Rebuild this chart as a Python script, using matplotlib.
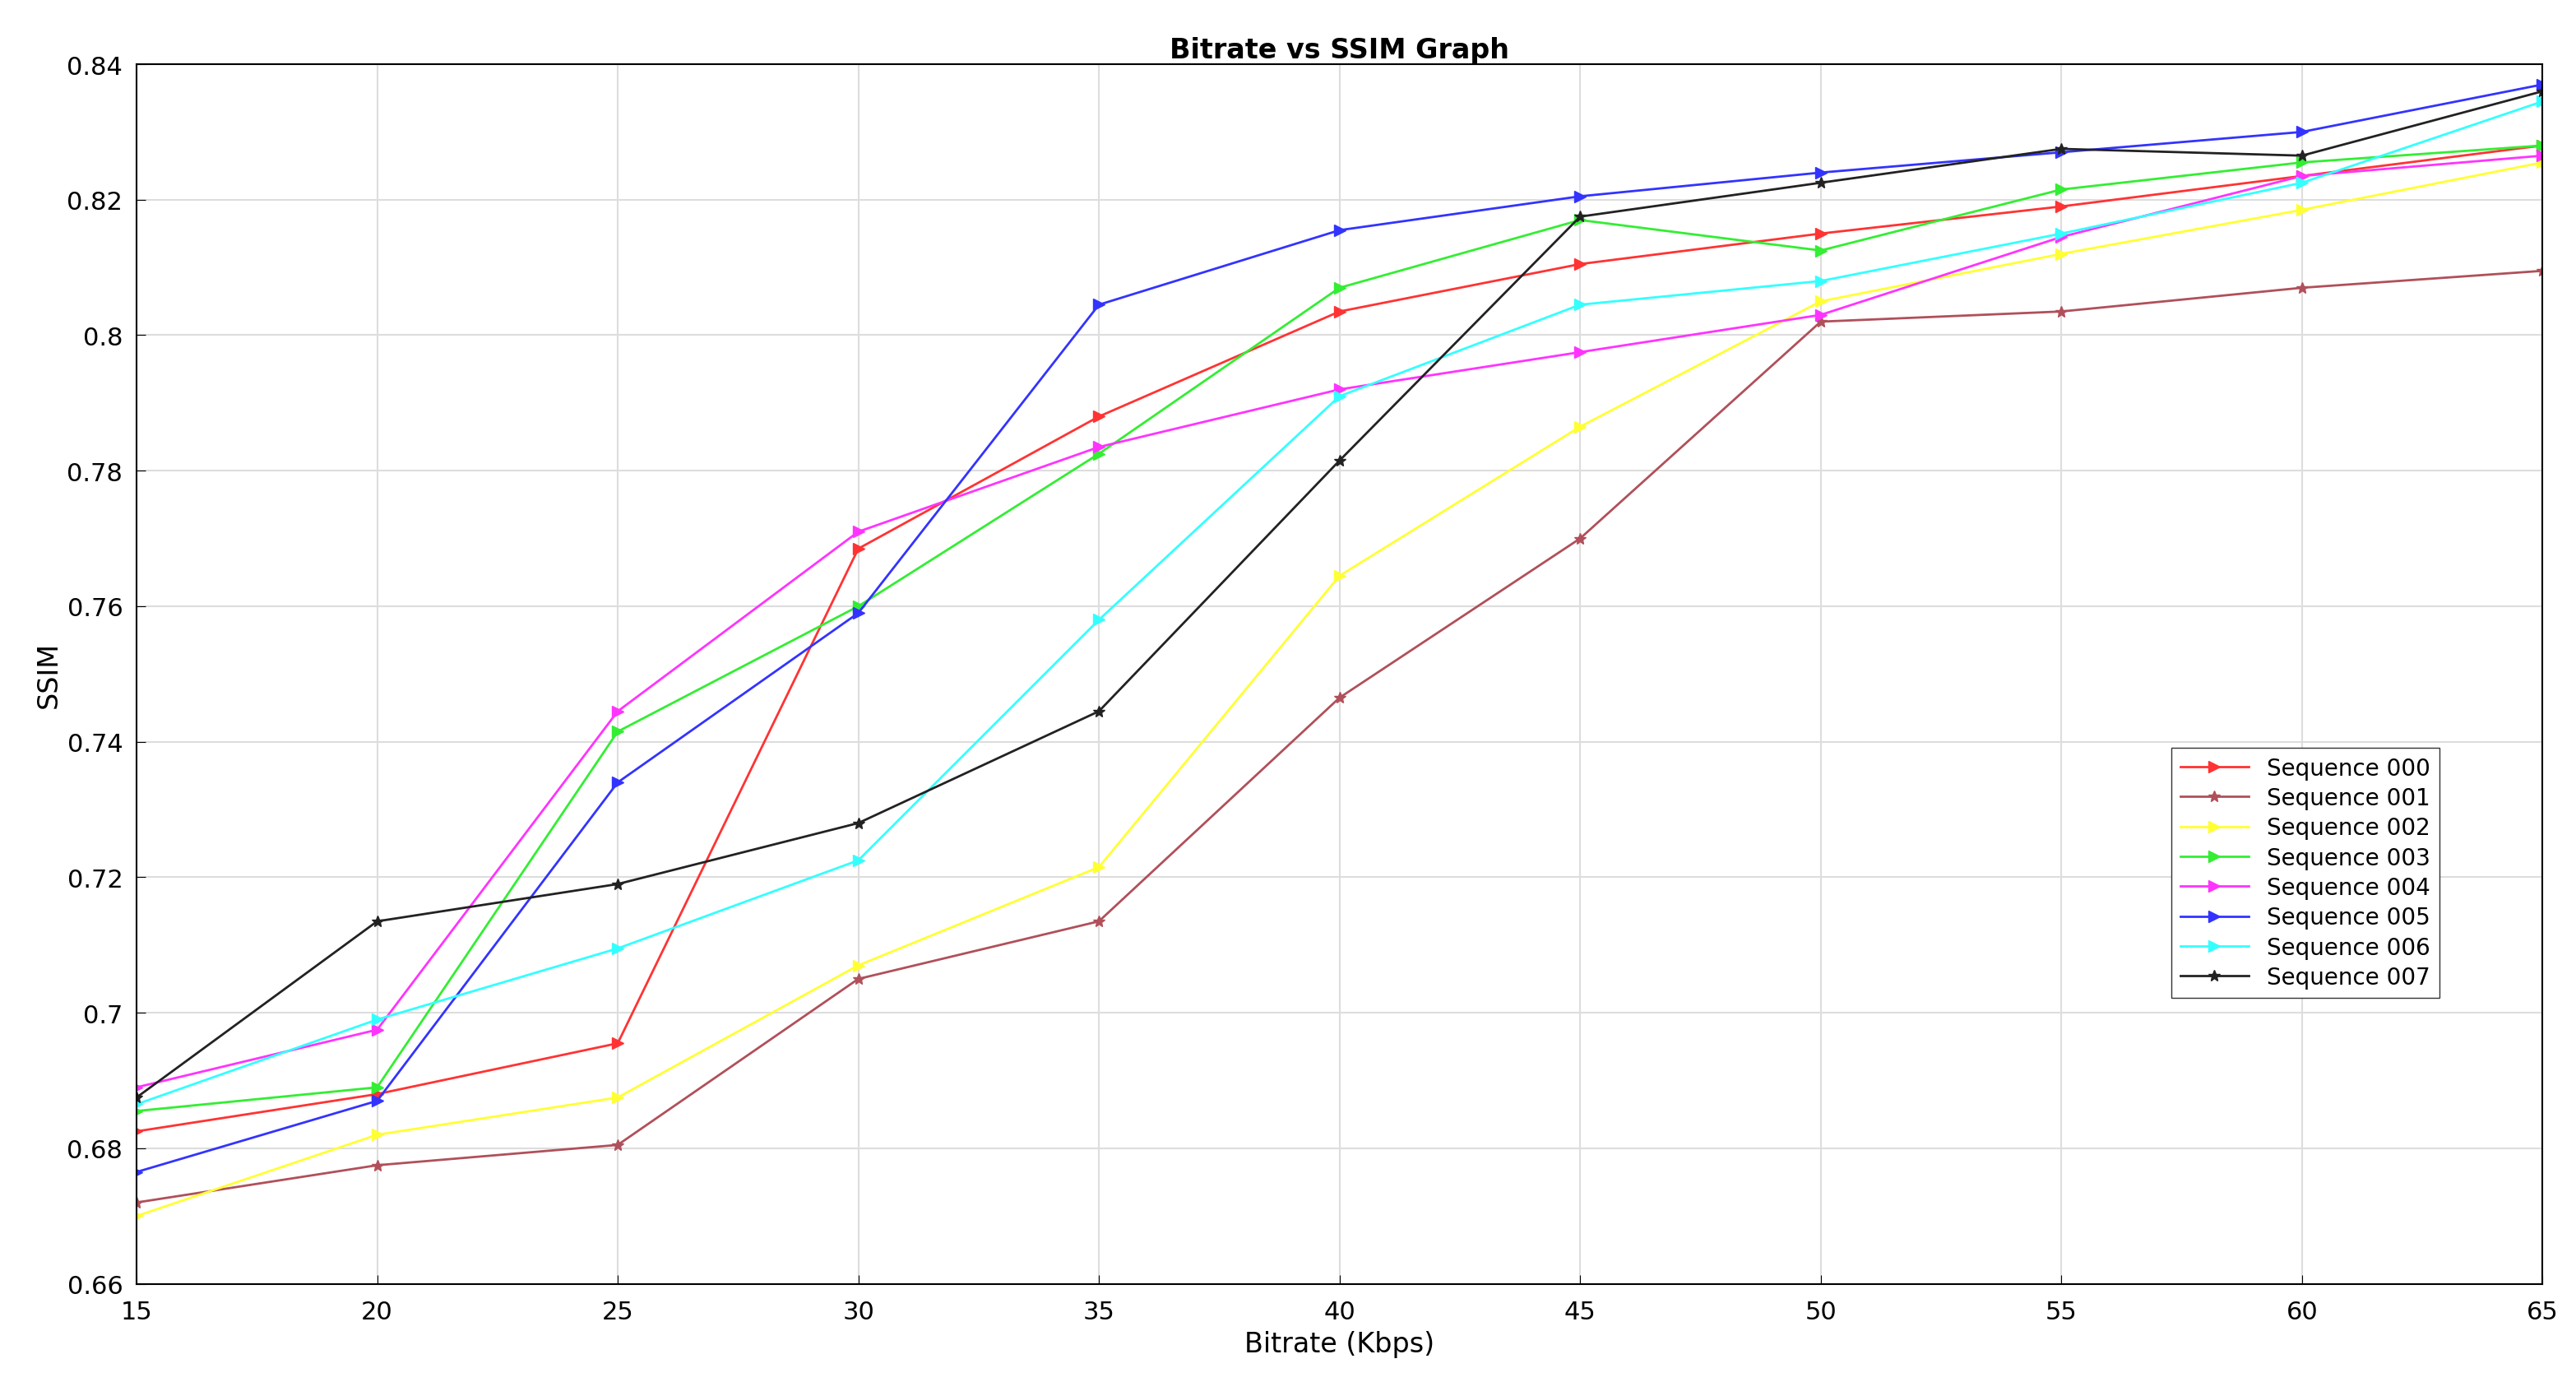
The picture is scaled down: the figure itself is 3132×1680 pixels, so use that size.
import matplotlib
matplotlib.use("Agg")
import matplotlib.pyplot as plt

bitrate = [15, 20, 25, 30, 35, 40, 45, 50, 55, 60, 65]
names = ["Sequence 000", "Sequence 001", "Sequence 002", "Sequence 003",
         "Sequence 004", "Sequence 005", "Sequence 006", "Sequence 007"]
seq000 = [0.6825, 0.688, 0.6955, 0.7685, 0.788, 0.8035, 0.8105, 0.815, 0.819, 0.8235, 0.828]
seq001 = [0.672, 0.6775, 0.6805, 0.705, 0.7135, 0.7465, 0.770, 0.802, 0.8035, 0.807, 0.8095]
seq002 = [0.670, 0.682, 0.6875, 0.707, 0.7215, 0.7645, 0.7865, 0.805, 0.812, 0.8185, 0.8255]
seq003 = [0.6855, 0.689, 0.7415, 0.760, 0.7825, 0.807, 0.817, 0.8125, 0.8215, 0.8255, 0.828]
seq004 = [0.689, 0.6975, 0.7445, 0.771, 0.7835, 0.792, 0.7975, 0.803, 0.8145, 0.8235, 0.8265]
seq005 = [0.6765, 0.687, 0.734, 0.759, 0.8045, 0.8155, 0.8205, 0.824, 0.827, 0.830, 0.837]
seq006 = [0.6865, 0.699, 0.7095, 0.7225, 0.758, 0.791, 0.8045, 0.808, 0.815, 0.8225, 0.8345]
seq007 = [0.6875, 0.7135, 0.719, 0.728, 0.7445, 0.7815, 0.8175, 0.8225, 0.8275, 0.8265, 0.836]
series = [seq000, seq001, seq002, seq003, seq004, seq005, seq006, seq007]
colors = ["#ff3333", "#b0505a", "#ffff33", "#33ee33", "#ff33ff", "#3333ff", "#33ffff", "#222222"]
markers = [">", "*", ">", ">", ">", ">", ">", "*"]

fig = plt.figure(figsize=(31.32, 16.81), dpi=100)
ax = fig.add_axes([0.053, 0.071, 0.934, 0.882])
for s, c, m, n in zip(series, colors, markers, names):
    ax.plot(bitrate, s, color=c, marker=m, markersize=10, linewidth=2, label=n)
ax.set_xlim(15, 65)
ax.set_ylim(0.66, 0.84)
ax.set_xticks(bitrate)
ax.set_yticks([0.66, 0.68, 0.7, 0.72, 0.74, 0.76, 0.78, 0.8, 0.82, 0.84])
ax.set_yticklabels(["0.66", "0.68", "0.7", "0.72", "0.74", "0.76", "0.78", "0.8", "0.82", "0.84"])
ax.grid(True, color="#dddddd", linewidth=1.5)
ax.tick_params(labelsize=22, direction="in", length=8)
ax.tick_params(axis="x", pad=14)
ax.tick_params(axis="y", pad=12)
for sp in ax.spines.values():
    sp.set_linewidth(1.5)
ax.set_xlabel("Bitrate (Kbps)", fontsize=24, labelpad=6)
ax.set_ylabel("SSIM", fontsize=24)
ax.set_title("Bitrate vs SSIM Graph", fontsize=24, fontweight="bold")
ax.legend(loc="center right", bbox_to_anchor=(0.962, 0.337), fontsize=20, fancybox=False,
          edgecolor="#333333", framealpha=1, handlelength=3, labelspacing=0.3)
fig.savefig("out.png", dpi=100)
